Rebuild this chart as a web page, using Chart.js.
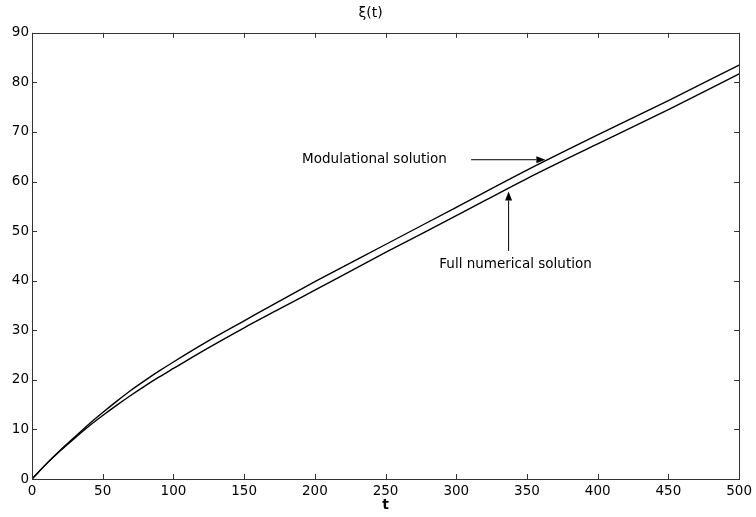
<!DOCTYPE html>
<html>
<head>
<meta charset="utf-8">
<script src="https://cdn.jsdelivr.net/npm/chart.js@4/dist/chart.umd.min.js"></script>
<style>
html,body{margin:0;padding:0;background:#fff;}
#wrap{width:756px;height:517px;}
</style>
</head>
<body>
<div id="wrap"><canvas id="c" width="756" height="517"></canvas></div>
<script>
// ---- data ----
const tValues = [0,10,20,30,40,50,60,70,80,90,100,125,150,175,200,250,300,350,400,450,500];
const modulational = [0,3.0,5.8,8.4,11.0,13.4,15.7,17.9,19.9,21.8,23.6,27.9,31.9,35.9,39.8,47.3,54.8,62.3,69.4,76.3,83.5];
const fullNumerical = [0,3.0,5.7,8.2,10.6,12.8,14.9,16.9,18.8,20.6,22.3,26.5,30.5,34.3,38.1,45.7,53.1,60.6,67.6,74.5,81.7];
const xTicks = [0,50,100,150,200,250,300,350,400,450,500];
const yTicks = [0,10,20,30,40,50,60,70,80,90];
const titleText = 'ξ(t)';
const xLabel = 't';
// annotation texts with data-space anchors
const annotations = [
  {text:'Modulational solution', x:191, y:64.4, arrowFrom:[310.5,64.4], arrowTo:[363,64.4]},
  {text:'Full numerical solution', x:288, y:43.2, arrowFrom:[337,46.0], arrowTo:[337,58.0]}
];

const FONT = 'DejaVu Sans';
const AXIS_COLOR = '#333';

const toXY = (xs, ys) => xs.map((x,i)=>({x:x, y:ys[i]}));

const framePlugin = {
  id:'frame',
  afterDraw(chart){
    const {ctx, chartArea:a, scales:{x, y}} = chart;
    ctx.save();
    ctx.strokeStyle = AXIS_COLOR;
    ctx.lineWidth = 1;
    ctx.strokeRect(Math.round(a.left)+0.5, Math.round(a.top)+0.5, Math.round(a.right-a.left), Math.round(a.bottom-a.top));
    const L = 5;
    ctx.beginPath();
    xTicks.forEach(v=>{
      const px = Math.round(x.getPixelForValue(v))+0.5;
      ctx.moveTo(px, a.bottom); ctx.lineTo(px, a.bottom-L);
      ctx.moveTo(px, a.top); ctx.lineTo(px, a.top+L);
    });
    yTicks.forEach(v=>{
      const py = Math.round(y.getPixelForValue(v))+0.5;
      ctx.moveTo(a.left, py); ctx.lineTo(a.left+L, py);
      ctx.moveTo(a.right, py); ctx.lineTo(a.right-L, py);
    });
    ctx.stroke();

    // annotations
    ctx.fillStyle = '#000';
    ctx.strokeStyle = '#000';
    ctx.font = '13.5px "' + FONT + '"';
    ctx.textBaseline = 'middle';
    ctx.textAlign = 'left';
    annotations.forEach(an=>{
      ctx.fillText(an.text, x.getPixelForValue(an.x), y.getPixelForValue(an.y));
      const x0 = x.getPixelForValue(an.arrowFrom[0]), y0 = y.getPixelForValue(an.arrowFrom[1]);
      const x1 = x.getPixelForValue(an.arrowTo[0]), y1 = y.getPixelForValue(an.arrowTo[1]);
      const ang = Math.atan2(y1-y0, x1-x0);
      const hl = 9, hw = 3.5;
      const bx = x1 - hl*Math.cos(ang), by = y1 - hl*Math.sin(ang);
      ctx.beginPath();
      ctx.lineWidth = 1;
      ctx.moveTo(x0, y0); ctx.lineTo(bx, by);
      ctx.stroke();
      ctx.beginPath();
      ctx.moveTo(x1, y1);
      ctx.lineTo(bx + hw*Math.sin(ang), by - hw*Math.cos(ang));
      ctx.lineTo(bx - hw*Math.sin(ang), by + hw*Math.cos(ang));
      ctx.closePath();
      ctx.fill();
    });
    ctx.restore();
  }
};

new Chart(document.getElementById('c'), {
  type:'line',
  data:{
    datasets:[
      {label:'Modulational solution', data:toXY(tValues, modulational), borderColor:'#000', borderWidth:1.4, pointRadius:0, fill:false, cubicInterpolationMode:'monotone'},
      {label:'Full numerical solution', data:toXY(tValues, fullNumerical), borderColor:'#000', borderWidth:1.4, pointRadius:0, fill:false, cubicInterpolationMode:'monotone'}
    ]
  },
  options:{
    responsive:false,
    animation:false,
    layout:{padding:{left:0, right:15, top:0, bottom:0}},
    plugins:{
      legend:{display:false},
      tooltip:{enabled:false},
      title:{display:true, text:titleText, color:'#000', font:{family:FONT, size:14, weight:'normal'}, padding:{top:5, bottom:11}}
    },
    scales:{
      x:{
        type:'linear', min:0, max:500,
        afterBuildTicks(s){ s.ticks = xTicks.map(v=>({value:v})); },
        afterFit(s){ s.height = 38; },
        grid:{display:false, drawTicks:false},
        border:{display:false},
        ticks:{color:'#000', padding:4, font:{family:FONT, size:13.5}, maxRotation:0, autoSkip:false},
        title:{display:true, text:xLabel, color:'#000', font:{family:FONT, size:14, weight:'bold'}, padding:{top:0, bottom:3}}
      },
      y:{
        type:'linear', min:0, max:90,
        afterBuildTicks(s){ s.ticks = yTicks.map(v=>({value:v})); },
        afterFit(s){ s.width = 32; },
        grid:{display:false, drawTicks:false},
        border:{display:false},
        ticks:{color:'#000', padding:3, font:{family:FONT, size:13.5}, autoSkip:false}
      }
    }
  },
  plugins:[framePlugin]
});
</script>
</body>
</html>
